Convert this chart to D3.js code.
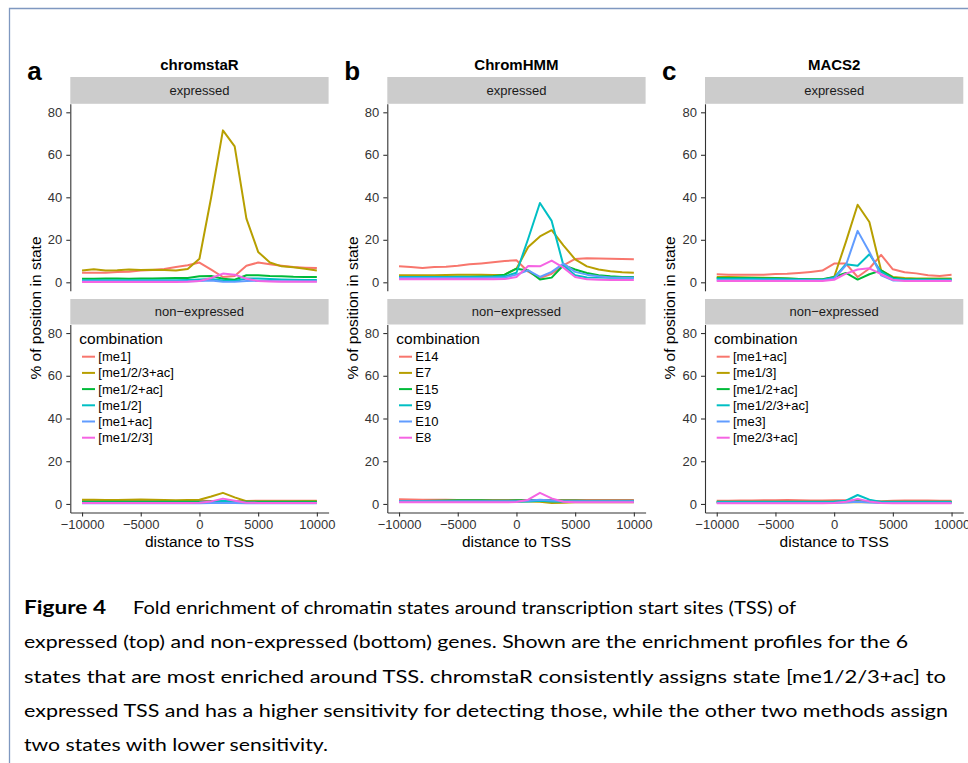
<!DOCTYPE html>
<html>
<head>
<meta charset="utf-8">
<script src="https://cdn.jsdelivr.net/npm/d3@7"></script>
<style>
  body { margin: 0; background: #fff; }
  svg { display: block; }
</style>
</head>
<body>
<svg id="fig" width="968" height="763"></svg>
<script>
// Distance to TSS (bp) at which each profile is sampled
const distance = [-10000, -9000, -8000, -7000, -6000, -5000, -4000, -3000, -2000, -1000, 0,
                  1000, 2000, 3000, 4000, 5000, 6000, 7000, 8000, 9000, 10000];
const xTicks = [-10000, -5000, 0, 5000, 10000];
const yTicks = [0, 20, 40, 60, 80];
const lineColors = ["#F8766D", "#B79F00", "#00BA38", "#00BFC4", "#619CFF", "#F564E3"];
const methods = ["chromstaR", "ChromHMM", "MACS2"];
const panelLetters = ["a", "b", "c"];
const conditions = ["expressed", "non\u2212expressed"];

// State names per method (legend order)
const chromstaRStates = ["[me1]", "[me1/2/3+ac]", "[me1/2+ac]", "[me1/2]", "[me1+ac]", "[me1/2/3]"];
const chromHMMStates = ["E14", "E7", "E15", "E9", "E10", "E8"];
const macs2States = ["[me1+ac]", "[me1/3]", "[me1/2+ac]", "[me1/2/3+ac]", "[me3]", "[me2/3+ac]"];

// % of positions in state, one row per state
const chromstaRExpressed = [
  [4.5, 4.5, 4.5, 4.9, 5.0, 5.5, 5.8, 6.3, 7.2, 8.0, 9.3, 6.0, 2.5, 3.0, 7.8, 9.3, 8.5, 7.8, 7.2, 6.9, 6.7],
  [5.6, 6.1, 5.6, 5.7, 6.0, 5.8, 5.9, 5.8, 5.5, 6.3, 11.1, 40.0, 71.5, 64.0, 30.0, 14.3, 9.3, 7.5, 7.1, 6.4, 5.6],
  [1.7, 1.7, 1.8, 1.8, 1.7, 1.8, 1.8, 1.9, 2.0, 2.0, 2.8, 3.0, 1.7, 1.2, 3.3, 3.3, 3.0, 2.9, 2.6, 2.5, 2.5],
  [1.0, 1.0, 1.0, 1.0, 1.0, 1.0, 1.0, 1.0, 1.0, 1.1, 1.3, 1.5, 0.8, 0.6, 1.8, 1.8, 1.5, 1.3, 1.2, 1.1, 1.1],
  [0.5, 0.5, 0.5, 0.5, 0.5, 0.5, 0.5, 0.5, 0.5, 0.5, 0.6, 0.8, 0.3, 0.2, 0.6, 0.7, 0.6, 0.5, 0.5, 0.5, 0.5],
  [0.2, 0.2, 0.2, 0.2, 0.2, 0.2, 0.2, 0.2, 0.2, 0.3, 0.6, 2.0, 4.1, 3.6, 1.7, 0.6, 0.4, 0.3, 0.3, 0.3, 0.3]
];
const chromstaRNonExpressed = [
  [1.5, 1.5, 1.4, 1.5, 1.5, 1.4, 1.4, 1.4, 1.4, 1.4, 1.5, 1.4, 1.0, 1.2, 1.4, 1.5, 1.5, 1.5, 1.5, 1.5, 1.5],
  [2.0, 2.0, 1.9, 1.8, 2.0, 2.1, 2.0, 1.8, 1.7, 1.8, 2.0, 3.5, 5.2, 3.1, 1.3, 1.2, 1.2, 1.2, 1.2, 1.3, 1.3],
  [1.0, 1.0, 1.0, 1.0, 1.0, 1.0, 1.0, 1.0, 1.0, 1.0, 1.0, 1.1, 1.2, 1.1, 1.0, 1.0, 1.0, 1.0, 1.0, 1.0, 1.0],
  [0.6, 0.6, 0.6, 0.6, 0.6, 0.6, 0.6, 0.6, 0.6, 0.6, 0.7, 1.0, 1.5, 1.0, 0.6, 0.6, 0.6, 0.6, 0.6, 0.6, 0.6],
  [0.3, 0.3, 0.3, 0.3, 0.3, 0.3, 0.3, 0.3, 0.3, 0.3, 0.3, 0.4, 0.5, 0.4, 0.3, 0.3, 0.3, 0.3, 0.3, 0.3, 0.3],
  [0.5, 0.5, 0.5, 0.5, 0.5, 0.5, 0.5, 0.5, 0.5, 0.5, 0.6, 1.2, 2.5, 1.5, 0.6, 0.5, 0.5, 0.5, 0.5, 0.5, 0.5]
];
const chromHMMExpressed = [
  [7.5, 7.2, 6.7, 7.2, 7.3, 7.8, 8.5, 8.9, 9.4, 10.0, 10.4, 5.0, 2.0, 4.0, 8.0, 11.0, 11.3, 11.2, 11.1, 11.0, 10.8],
  [3.3, 3.3, 3.3, 3.3, 3.4, 3.5, 3.6, 3.5, 3.4, 3.6, 6.4, 16.6, 21.6, 24.5, 17.4, 10.8, 7.5, 6.0, 5.2, 4.7, 4.5],
  [2.5, 2.5, 2.5, 2.5, 2.5, 2.6, 2.6, 2.7, 2.8, 3.6, 6.4, 5.6, 1.3, 2.2, 8.0, 6.0, 4.4, 3.3, 2.8, 2.5, 2.5],
  [2.5, 2.5, 2.5, 2.5, 2.5, 2.5, 2.5, 2.5, 2.6, 2.8, 4.5, 20.5, 37.3, 28.9, 8.0, 3.3, 2.3, 2.2, 2.2, 2.2, 2.2],
  [2.0, 2.0, 2.0, 2.0, 2.0, 2.0, 2.0, 2.0, 2.1, 2.2, 3.6, 5.6, 2.5, 4.9, 8.8, 4.9, 3.6, 2.8, 2.3, 2.2, 2.2],
  [1.4, 1.4, 1.4, 1.4, 1.4, 1.4, 1.4, 1.4, 1.4, 1.5, 2.5, 7.7, 7.5, 10.2, 6.9, 2.5, 1.4, 1.2, 1.1, 1.1, 1.1]
];
const chromHMMNonExpressed = [
  [2.2, 2.1, 2.0, 2.0, 2.0, 1.9, 1.9, 1.9, 1.9, 1.9, 1.9, 1.8, 1.8, 1.8, 1.8, 1.8, 1.8, 1.8, 1.8, 1.8, 1.8],
  [1.2, 1.2, 1.2, 1.2, 1.2, 1.2, 1.2, 1.2, 1.2, 1.2, 1.2, 1.2, 1.0, 0.5, 0.6, 0.8, 0.8, 0.8, 0.8, 0.8, 0.8],
  [1.4, 1.4, 1.4, 1.5, 1.6, 1.7, 1.7, 1.7, 1.6, 1.6, 1.7, 1.7, 1.7, 1.6, 1.6, 1.6, 1.5, 1.5, 1.5, 1.5, 1.5],
  [1.0, 1.0, 1.0, 1.0, 1.0, 1.0, 1.0, 1.0, 1.0, 1.0, 1.0, 1.2, 1.5, 1.2, 1.0, 1.0, 1.0, 1.0, 1.0, 1.0, 1.0],
  [1.3, 1.3, 1.3, 1.3, 1.3, 1.3, 1.3, 1.3, 1.3, 1.3, 1.3, 1.5, 2.0, 1.6, 1.3, 1.3, 1.3, 1.3, 1.3, 1.3, 1.3],
  [0.8, 0.8, 0.8, 0.8, 0.8, 0.8, 0.8, 0.8, 0.8, 0.8, 0.9, 2.0, 5.2, 2.6, 1.0, 0.8, 0.8, 0.8, 0.8, 0.8, 0.8]
];
const macs2Expressed = [
  [3.8, 3.6, 3.6, 3.6, 3.6, 3.9, 4.0, 4.4, 4.9, 5.5, 8.8, 8.8, 2.5, 6.5, 12.9, 6.1, 4.7, 4.2, 3.3, 3.0, 3.5],
  [2.5, 2.5, 2.4, 2.3, 2.2, 2.0, 1.8, 1.5, 1.3, 1.2, 2.5, 19.0, 36.5, 28.4, 5.6, 2.5, 2.0, 1.8, 1.8, 1.8, 1.8],
  [2.0, 2.0, 2.0, 2.0, 1.9, 1.9, 1.8, 1.6, 1.4, 1.4, 2.5, 4.4, 1.3, 3.8, 5.6, 2.2, 1.4, 1.4, 1.4, 1.4, 1.4],
  [1.7, 1.7, 1.7, 1.7, 1.6, 1.5, 1.4, 1.3, 1.2, 1.2, 2.2, 8.5, 7.8, 13.2, 4.9, 1.7, 1.3, 1.2, 1.2, 1.2, 1.2],
  [1.0, 1.0, 1.0, 1.0, 1.0, 1.0, 1.0, 1.0, 1.0, 1.0, 1.7, 8.0, 24.2, 14.3, 3.3, 0.9, 0.9, 0.9, 0.9, 0.9, 0.9],
  [0.6, 0.6, 0.6, 0.6, 0.6, 0.6, 0.6, 0.6, 0.6, 0.6, 1.2, 4.1, 6.0, 6.6, 3.8, 1.2, 0.6, 0.6, 0.6, 0.6, 0.6]
];
const macs2NonExpressed = [
  [1.5, 1.5, 1.6, 1.6, 1.7, 1.7, 1.8, 1.7, 1.6, 1.6, 1.7, 1.7, 1.5, 1.2, 1.3, 1.5, 1.6, 1.6, 1.6, 1.5, 1.5],
  [0.8, 0.8, 0.8, 0.8, 0.8, 0.8, 0.8, 0.8, 0.8, 0.8, 0.8, 0.8, 0.9, 0.8, 0.8, 0.8, 0.8, 0.8, 0.8, 0.8, 0.8],
  [1.0, 1.0, 1.0, 1.0, 1.0, 1.0, 1.0, 1.0, 1.0, 1.0, 1.0, 1.2, 1.5, 1.2, 1.0, 1.0, 1.0, 1.0, 1.0, 1.0, 1.0],
  [0.9, 0.9, 0.9, 0.9, 0.9, 0.9, 0.9, 0.9, 0.9, 0.9, 1.0, 1.5, 4.2, 2.0, 0.9, 0.9, 0.9, 0.9, 0.9, 0.9, 0.9],
  [0.5, 0.5, 0.5, 0.5, 0.5, 0.5, 0.5, 0.5, 0.5, 0.5, 0.5, 0.7, 1.0, 0.7, 0.5, 0.5, 0.5, 0.5, 0.5, 0.5, 0.5],
  [0.3, 0.3, 0.3, 0.3, 0.3, 0.3, 0.3, 0.3, 0.3, 0.3, 0.4, 1.0, 2.3, 1.2, 0.4, 0.3, 0.3, 0.3, 0.3, 0.3, 0.3]
];

const captionHead = "Figure 4";
const captionLines = [
  "Fold enrichment of chromatin states around transcription start sites (TSS) of",
  "expressed (top) and non-expressed (bottom) genes. Shown are the enrichment profiles for the 6",
  "states that are most enriched around TSS. chromstaR consistently assigns state [me1/2/3+ac] to",
  "expressed TSS and has a higher sensitivity for detecting those, while the other two methods assign",
  "two states with lower sensitivity."
];

const panels = [
  { states: chromstaRStates, rows: [chromstaRExpressed, chromstaRNonExpressed] },
  { states: chromHMMStates, rows: [chromHMMExpressed, chromHMMNonExpressed] },
  { states: macs2States, rows: [macs2Expressed, macs2NonExpressed] }
];

const svg = d3.select("#fig");
const FONT = "'Liberation Sans', Arial, Helvetica, sans-serif";

// page frame
svg.append("path")
  .attr("d", "M968,8.5H9.5V763")
  .attr("fill", "none")
  .attr("stroke", "#7f98c0")
  .attr("stroke-width", 1.3);

const panelLeft = [70.3, 387.3, 705];
const panelWidth = 258.3;
const facetRows = [
  { stripTop: 77, top: 103.8, bottom: 290.8 },
  { stripTop: 299, top: 324.5, bottom: 512.5 }
];

panels.forEach((p, i) => {
  const L = panelLeft[i];
  const cx = L + panelWidth / 2;
  const x = d3.scaleLinear().domain([-11000, 11000]).range([L, L + panelWidth]);

  // method title and panel letter
  svg.append("text")
    .attr("x", cx).attr("y", 70)
    .attr("text-anchor", "middle")
    .attr("font-family", FONT).attr("font-weight", "bold").attr("font-size", 15)
    .attr("fill", "#000")
    .text(methods[i]);
  svg.append("text")
    .attr("x", L - 43).attr("y", 79.5)
    .attr("font-family", FONT).attr("font-weight", "bold").attr("font-size", 26)
    .attr("fill", "#000")
    .text(panelLetters[i]);

  facetRows.forEach((r, j) => {
    const y = d3.scaleLinear().domain([-4, 84]).range([r.bottom, r.top]);

    // facet strip
    svg.append("rect")
      .attr("x", L).attr("y", r.stripTop)
      .attr("width", panelWidth).attr("height", r.top - r.stripTop)
      .attr("fill", "#cccccc");
    svg.append("text")
      .attr("x", cx).attr("y", (r.stripTop + r.top) / 2)
      .attr("dy", "0.35em")
      .attr("text-anchor", "middle")
      .attr("font-family", FONT).attr("font-size", 13)
      .attr("fill", "#1a1a1a")
      .text(conditions[j]);

    // y axis
    const ya = svg.append("g")
      .attr("transform", `translate(${L},0)`)
      .call(d3.axisLeft(y).tickValues(yTicks).tickSize(4).tickSizeOuter(0).tickPadding(4));
    ya.select(".domain").attr("stroke", "#333").attr("stroke-width", 1.1);
    ya.selectAll(".tick line").attr("stroke", "#333").attr("stroke-width", 1.1);
    ya.selectAll(".tick text")
      .attr("font-family", FONT).attr("font-size", 13).attr("fill", "#333");

    // x axis only under the lower facet
    if (j === 1) {
      const xa = svg.append("g")
        .attr("transform", `translate(0,${r.bottom})`)
        .call(d3.axisBottom(x).tickValues(xTicks).tickFormat(d3.format("d"))
          .tickSize(4).tickSizeOuter(0).tickPadding(3));
      xa.select(".domain").attr("stroke", "#333").attr("stroke-width", 1.1);
      xa.selectAll(".tick line").attr("stroke", "#333").attr("stroke-width", 1.1);
      xa.selectAll(".tick text")
        .attr("font-family", FONT).attr("font-size", 13).attr("fill", "#333");
    }

    // profile lines
    const line = d3.line()
      .x((d, k) => x(distance[k]))
      .y(d => y(d));
    svg.append("g")
      .selectAll("path")
      .data(p.rows[j])
      .join("path")
      .attr("d", d => line(d))
      .attr("fill", "none")
      .attr("stroke", (d, k) => lineColors[k])
      .attr("stroke-width", 2)
      .attr("stroke-linejoin", "round");

    // legend inside the lower facet
    if (j === 1) {
      const lg = svg.append("g").attr("transform", `translate(${L},0)`);
      lg.append("text")
        .attr("x", 9).attr("y", 339)
        .attr("dy", "0.35em")
        .attr("font-family", FONT).attr("font-size", 15.5)
        .attr("fill", "#000")
        .text("combination");
      p.states.forEach((s, k) => {
        const ky = 356.7 + k * 16.2;
        lg.append("line")
          .attr("x1", 11.7).attr("x2", 24.7)
          .attr("y1", ky).attr("y2", ky)
          .attr("stroke", lineColors[k]).attr("stroke-width", 2);
        lg.append("text")
          .attr("x", 28).attr("y", ky)
          .attr("dy", "0.35em")
          .attr("font-family", FONT).attr("font-size", 13)
          .attr("fill", "#000")
          .text(s);
      });
    }
  });

  // axis titles
  svg.append("text")
    .attr("transform", `translate(${L - 35},308) rotate(-90)`)
    .attr("dy", "0.35em")
    .attr("text-anchor", "middle")
    .attr("font-family", FONT).attr("font-size", 15.5)
    .attr("fill", "#000")
    .text("% of position in state");
  svg.append("text")
    .attr("x", cx).attr("y", 542)
    .attr("dy", "0.35em")
    .attr("text-anchor", "middle")
    .attr("font-family", FONT).attr("font-size", 15.5)
    .attr("fill", "#000")
    .text("distance to TSS");
});

// caption
const CAP_FONT = "Lato, 'Open Sans', sans-serif";
const capBase = [614, 648, 683, 717, 751];
const capStart = [133, 24, 24, 24, 24];
const capEnd = [796, 908, 946, 948, 328];
svg.append("text")
  .attr("x", 24).attr("y", capBase[0])
  .attr("font-family", CAP_FONT).attr("font-weight", "bold").attr("font-size", 18)
  .attr("textLength", 82).attr("lengthAdjust", "spacingAndGlyphs")
  .attr("fill", "#000")
  .text(captionHead);
captionLines.forEach((t, k) => {
  svg.append("text")
    .attr("x", capStart[k]).attr("y", capBase[k])
    .attr("font-family", CAP_FONT).attr("font-size", 18)
    .attr("textLength", capEnd[k] - capStart[k]).attr("lengthAdjust", "spacingAndGlyphs")
    .attr("fill", "#000")
    .text(t);
});
</script>
</body>
</html>
